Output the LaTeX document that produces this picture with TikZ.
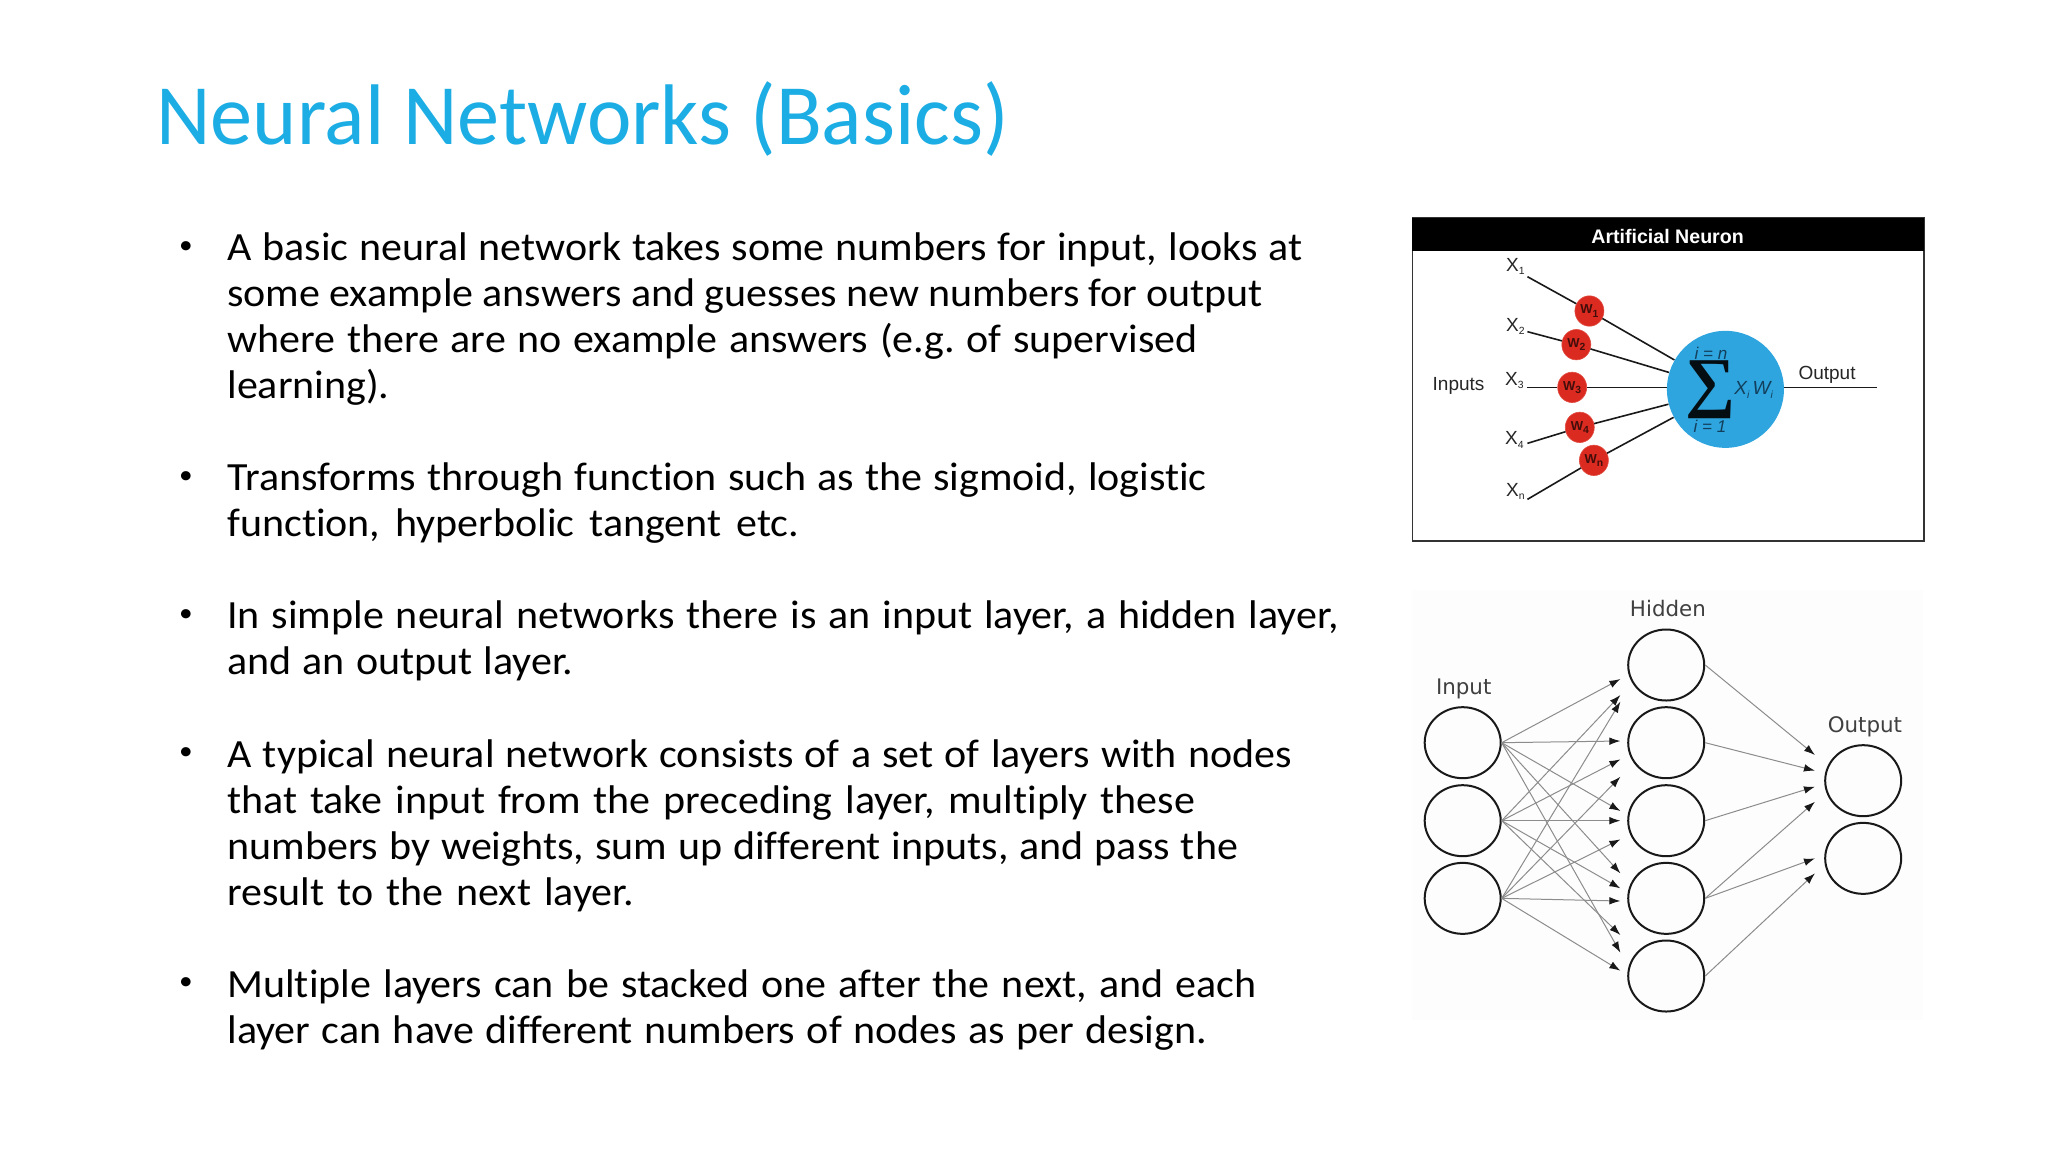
\documentclass[tikz,border=0pt]{standalone}
\usepackage{fontspec}
\usetikzlibrary{arrows.meta,shapes.geometric}
\setmainfont{Carlito}[Ligatures=NoCommon,FakeStretch=1.05]
\newfontfamily\titlefont{Carlito}[Ligatures=NoCommon,FakeStretch=0.98]
\newfontfamily\lab{Liberation Sans}
\newfontfamily\serifb{Liberation Serif}
\newfontfamily\dv{DejaVu Sans}
\definecolor{titleblue}{HTML}{1CADE4}
\definecolor{sumblue}{HTML}{2FA5DF}
\definecolor{wred}{HTML}{DB2B20}
\definecolor{sumtxt}{HTML}{123F5C}
\newcommand{\sbs}[1]{\raisebox{-1.6pt}{\fontsize{5.2}{6}\selectfont #1}}
\frenchspacing
\hbadness=10000 \hfuzz=20pt
\tikzset{
 titlestyle/.style={anchor=base west,inner sep=0,text=titleblue,font=\titlefont\fontsize{43}{43}\selectfont},
 linestyle/.style={anchor=base west,inner sep=0,text=black,font=\fontsize{20}{20}\selectfont},
 bulletstyle/.style={anchor=center,inner sep=0,text=black,font=\fontsize{13}{13}\selectfont},
 wnode/.style={ellipse,fill=wred,draw=wred!85!white,line width=.3pt,inner sep=0,minimum width=14.5pt,minimum height=15.2pt,text=black!70!wred,font=\lab\bfseries\fontsize{6.5}{7}\selectfont},
 xlabel/.style={inner sep=0,text=black!85,font=\lab\fontsize{9.5}{10}\selectfont},
 wire/.style={line width=.8pt,black!90},
 nnode/.style={ellipse,draw=black!90,line width=1pt,inner sep=0,minimum width=38pt,minimum height=35.5pt},
 nlabel/.style={inner sep=0,text=black!75,font=\dv\fontsize{10.7}{11}\selectfont},
 arr/.style={line width=.5pt,black!45,-{Latex[length=5.5pt,width=3.8pt,black!90]}},
}
\begin{document}
\begin{tikzpicture}[x=0.5pt,y=-0.5pt]
\useasboundingbox (0,0) rectangle (2048,1152);
\fill[white] (0,0) rectangle (2048,1152);
\node[titlestyle] (title) at (156,144) {Neural Networks (Basics)};
\foreach \n/\yy/\w/\t in {
 l1/260/537.4/{A basic neural network takes some numbers for input, looks at},
 l2/306/517.8/{some example answers and guesses new numbers for output},
 l3/352/485.2/{where there are no example answers (e.g. of supervised},
 l5/490/489.8/{Transforms through function such as the sigmoid, logistic},
 l6/536/286/{function, hyperbolic tangent etc.},
 l7/628/555.7/{In simple neural networks there is an input layer, a hidden layer,},
 l8/674/173/{and an output layer.},
 l9/767/532.2/{A typical neural network consists of a set of layers with nodes},
 l10/813/483.9/{that take input from the preceding layer, multiply these},
 l11/859/505.4/{numbers by weights, sum up different inputs, and pass the},
 l12/905/203.1/{result to the next layer.},
 l13/997/514.6/{Multiple layers can be stacked one after the next, and each},
 l14/1043/489.8/{layer can have different numbers of nodes as per design.}}
 {\node[linestyle] (\n) at (227,\yy) {\makebox[\w pt][s]{\t}};}
\node[linestyle] (l4) at (227,398) {learning).};
\foreach \n/\yy in {b1/248,b2/478,b3/616,b4/754,b5/984}
 {\node[bulletstyle] (\n) at (186,\yy) {•};}
% artificial neuron
\begin{scope}[shift={(1400,210)},x=0.17218pt,y=-0.16667pt]
 \draw[line width=.9pt,draw=black!80,fill=white] (36,24) rectangle (1522,992);
 \fill[black] (36,24) rectangle (1522,124);
 \node[inner sep=0,text=white,font=\lab\bfseries\fontsize{9.8}{10}\selectfont] (hd) at (777,80) {Artificial Neuron};
 \node[circle,fill=sumblue,inner sep=0,minimum size=58.5pt] (sum) at (945,538) {};
 \node[wnode] (w1) at (550,303) {W\sbs{1}};
 \node[wnode] (w2) at (512,404) {W\sbs{2}};
 \node[wnode] (w3) at (500,532) {W\sbs{3}};
 \node[wnode] (w4) at (522,652) {W\sbs{4}};
 \node[wnode] (w5) at (563,751) {W\sbs{n}};
 \node[xlabel] (x1) at (335,170) {X\sbs{1}};
 \node[xlabel] (x2) at (335,350) {X\sbs{2}};
 \node[xlabel] (x3) at (332,512) {X\sbs{3}};
 \node[xlabel] (x4) at (332,690) {X\sbs{4}};
 \node[xlabel] (x5) at (335,845) {X\sbs{n}};
 \node[xlabel] (inp) at (170,527) {Inputs};
 \node[xlabel] (outl) at (1240,493) {Output};
 \coordinate (c1) at (370,200);
 \coordinate (c2) at (370,365);
 \coordinate (c3) at (370,532);
 \coordinate (c4) at (370,700);
 \coordinate (c5) at (370,868);
 \coordinate (co) at (1385,533);
 \foreach \i in {1,...,5}{\draw[wire] (c\i) -- (w\i);}
 \foreach \i in {1,2,4,5}{\draw[wire] (w\i) -- (sum);}
 \draw[wire] (w3) -- (w3 -| sum.west);
 \draw[wire] (co -| sum.east) -- (co);
 \node[inner sep=0,text=black!92!sumblue] (sg) at (902,538) {\resizebox*{25pt}{29pt}{\serifb\bfseries ∑}};
 \node[inner sep=0,text=sumtxt,font=\lab\itshape\fontsize{8.5}{9}\selectfont] (top) at (903,430) {i = n};
 \node[inner sep=0,text=sumtxt,font=\lab\itshape\fontsize{8.5}{9}\selectfont] (bot) at (900,648) {i = 1};
 \node[inner sep=0,text=sumtxt,font=\lab\itshape\fontsize{9.5}{10}\selectfont] (xw) at (1027,540) {X\sbs{i}\,W\sbs{i}};
\end{scope}
% network
\begin{scope}[shift={(1400,580)},x=0.17218pt,y=-0.16667pt]
 \fill[black!.8] (35,30) rectangle (1520,1320);
 \node[nnode] (i1) at (182,488) {};
 \node[nnode] (i2) at (182,722) {};
 \node[nnode] (i3) at (182,955) {};
 \node[nnode] (h1) at (773,255) {};
 \node[nnode] (h2) at (773,488) {};
 \node[nnode] (h3) at (773,722) {};
 \node[nnode] (h4) at (773,955) {};
 \node[nnode] (h5) at (773,1188) {};
 \node[nnode] (o1) at (1345,602) {};
 \node[nnode] (o2) at (1345,835) {};
 \node[nlabel] (li) at (185,328) {Input};
 \node[nlabel] (lh) at (778,85) {Hidden};
 \node[nlabel] (lo) at (1350,440) {Output};
 \foreach \s/\n/\yy in {i1/a/297,i1/b/483,i1/c/693,i1/d/880,i1/e/1118,
   i2/a/345,i2/b/538,i2/c/722,i2/d/925,i2/e/1065,
   i3/a/365,i3/b/590,i3/c/778,i3/d/963,i3/e/1172}
  {\coordinate (t\s\n) at (640,\yy); \draw[arr] (\s.east) -- (t\s\n);}
 \foreach \s/\n/\yy in {h1/a/525,h2/b/572,h3/c/620,h4/d/665,h4/e/835,h5/f/880}
  {\coordinate (u\s\n) at (1205,\yy); \draw[arr] (\s.east) -- (u\s\n);}
\end{scope}
\end{tikzpicture}
\end{document}
